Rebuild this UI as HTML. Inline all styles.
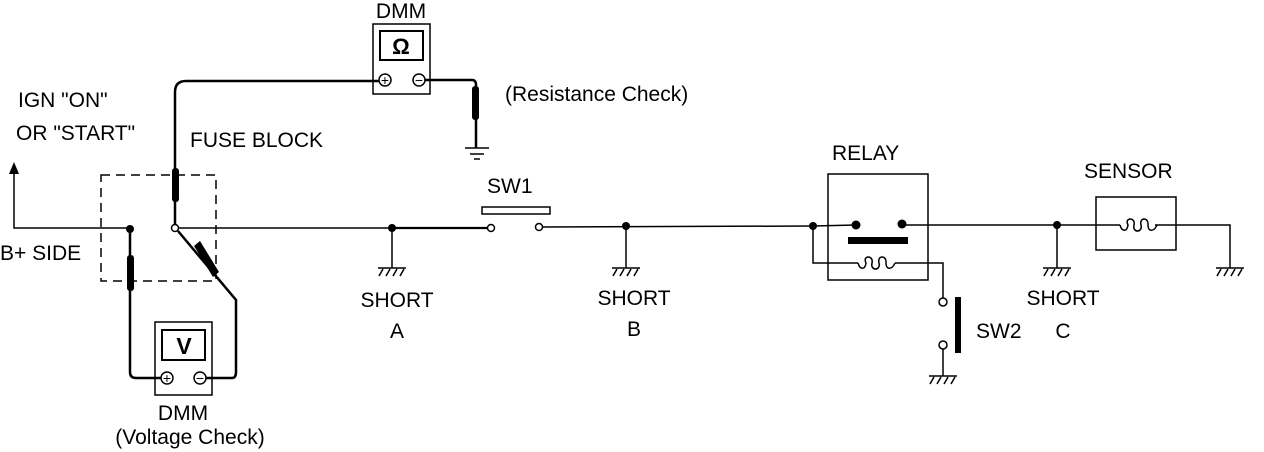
<!DOCTYPE html>
<html><head><style>body{margin:0;background:#fff}svg{display:block}text{font-family:"Liberation Sans",sans-serif;font-size:21px;fill:#000}</style></head><body>
<svg width="1264" height="452" viewBox="0 0 1264 452" xmlns="http://www.w3.org/2000/svg">
<defs>
<g id="gnd"><line x1="-14" y1="0" x2="14" y2="0" stroke="#000" stroke-width="1.5"/><path d="M-13 8 L-9 1 M-6 8 L-2 1 M1 8 L5 1 M8 8 L12 1" stroke="#000" stroke-width="1.5"/></g>
</defs>
<g fill="none" stroke="#000" stroke-width="1.5">
<line x1="178" y1="228" x2="487" y2="228"/>
<line x1="543" y1="227" x2="813" y2="226"/>
<line x1="392" y1="228" x2="487" y2="228" stroke-width="2.2"/>
<rect x="482" y="207" width="68" height="7"/>
<line x1="392" y1="228" x2="392" y2="268"/>
<line x1="626" y1="226" x2="626" y2="268"/>
<polyline points="130,228 14,228 14,168"/>
<rect x="101" y="175" width="115" height="106" stroke-dasharray="9,6"/>
<g stroke-width="2.5">
<path d="M130 228 V372 Q130 378 136 378 H161"/>
<path d="M206 378 H232 Q236 378 236 372 V300 L178 231"/>
<path d="M175 225 V92 Q175 81 186 81 H379"/>
<path d="M425 80 H472 Q476 80 476 85 V148"/>
</g>
<line x1="465" y1="148" x2="489" y2="148"/><line x1="470" y1="154" x2="484" y2="154"/><line x1="474" y1="159" x2="480" y2="159"/>
<rect x="373" y="24" width="57" height="70"/>
<rect x="380" y="31" width="43" height="29" stroke-width="2"/>
<circle cx="385" cy="80" r="6"/><circle cx="419" cy="80" r="6"/>
<rect x="155" y="322" width="57" height="73"/>
<rect x="162" y="330" width="43" height="30" stroke-width="2"/>
<circle cx="167" cy="378" r="6"/><circle cx="200" cy="378" r="6"/>
<circle cx="175" cy="228" r="3.5" fill="#fff"/>
<circle cx="491" cy="228" r="3.5" fill="#fff"/>
<circle cx="539" cy="227" r="3.5" fill="#fff"/>
<line x1="813" y1="226" x2="856" y2="225"/>
<rect x="828" y="174" width="100" height="106"/>
<path d="M813 226 V263 H858 M895 263 H943 V298"/>
<path d="M858 263 c2 7 7 7 8 0 c-4 -8 8 -8 6 0 c-2 8 9 8 7 0 c-2 -8 8 -8 7 0 c0 7 6 7 9 0"/>
<line x1="902" y1="225" x2="1120" y2="225"/>
<line x1="1057" y1="225" x2="1057" y2="268"/>
<circle cx="943" cy="302" r="4" fill="#fff"/>
<circle cx="943" cy="345" r="4" fill="#fff"/>
<line x1="943" y1="349" x2="943" y2="376"/>
<rect x="1096" y="197" width="80" height="53"/>
<path d="M1120 225 c2 7 7 7 8 0 c-4 -8 8 -8 6 0 c-2 8 9 8 7 0 c-2 -8 8 -8 7 0 c0 7 6 7 9 0"/>
<polyline points="1155,225 1230,225 1230,268"/>
</g>
<g fill="#000" stroke="none">
<rect x="172" y="168" width="7" height="34" rx="3"/>
<rect x="127" y="255" width="7" height="36" rx="3"/>
<rect x="472" y="86" width="7" height="34" rx="3"/>
<polygon points="194,246 200,241 219,272 213,277"/>
<rect x="955" y="297" width="6" height="56"/>
<rect x="848" y="237" width="60" height="7"/>
<circle cx="856" cy="225" r="4.5"/><circle cx="902" cy="224" r="4.5"/>
<circle cx="130" cy="229" r="4"/><circle cx="392" cy="228" r="4"/><circle cx="626" cy="226" r="4"/>
<circle cx="813" cy="226" r="4"/><circle cx="1057" cy="225" r="4"/>
<polygon points="14,162 9,174 19,174"/>
</g>
<use href="#gnd" x="392" y="268"/>
<use href="#gnd" x="626" y="268"/>
<use href="#gnd" x="1057" y="268"/>
<use href="#gnd" x="1230" y="268"/>
<use href="#gnd" x="943" y="376"/>
<text x="385" y="85" text-anchor="middle" style="font-size:14px">+</text><text x="419" y="85" text-anchor="middle" style="font-size:14px">−</text>
<text x="167" y="383" text-anchor="middle" style="font-size:14px">+</text><text x="200" y="383" text-anchor="middle" style="font-size:14px">−</text>
<text x="401" y="54" style="font-size:22px;font-weight:bold" text-anchor="middle">Ω</text>
<text x="184" y="354" text-anchor="middle" style="font-size:23px;font-weight:bold">V</text>
<text x="401" y="18" text-anchor="middle">DMM</text>
<text x="505" y="101">(Resistance Check)</text>
<text x="18" y="107">IGN "ON"</text>
<text x="16" y="140">OR "START"</text>
<text x="190" y="147">FUSE BLOCK</text>
<text x="0" y="260">B+ SIDE</text>
<text x="487" y="193">SW1</text>
<text x="832" y="160">RELAY</text>
<text x="1084" y="178">SENSOR</text>
<text x="397" y="307" text-anchor="middle">SHORT</text>
<text x="397" y="338" text-anchor="middle">A</text>
<text x="634" y="305" text-anchor="middle">SHORT</text>
<text x="634" y="336" text-anchor="middle">B</text>
<text x="1063" y="305" text-anchor="middle">SHORT</text>
<text x="1063" y="338" text-anchor="middle">C</text>
<text x="976" y="338">SW2</text>
<text x="183" y="420" text-anchor="middle">DMM</text>
<text x="190" y="444" text-anchor="middle">(Voltage Check)</text>
</svg>
</body></html>
